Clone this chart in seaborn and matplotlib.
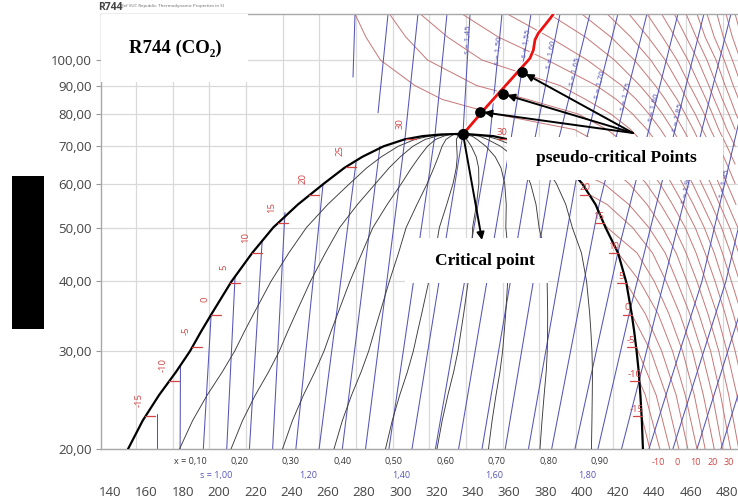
import numpy as np
import pandas as pd
import matplotlib
matplotlib.use("Agg")
import matplotlib.pyplot as plt
import matplotlib.transforms as mtransforms
import seaborn as sns
from matplotlib.patches import Rectangle
from matplotlib.ticker import NullLocator

nan = np.nan

# ---------------- data (h in kJ/kg, p in bar) ----------------
# saturation dome
SAT_P = [20, 22.5, 25, 27.5, 30, 32.5, 35, 40, 45, 50, 55, 60, 64, 67, 70, 72, 73, 73.5, 73.7]
SAT_HL = [149.9, 158.0, 167.0, 176.3, 184.1, 190.1, 196.0, 206.9, 218.3, 229.9, 243.5,
          257.9, 269.1, 279.0, 290.8, 302.2, 312.3, 322.4, 334.5]
SAT_HV = [433.7, 433.1, 432.3, 431.4, 430.2, 428.9, 427.5, 424.4, 420.0, 413.1, 407.6,
          400.2, 392.5, 383.7, 371.3, 359.5, 351.2, 339.5, 334.5]

QUALITY = [0.1, 0.2, 0.3, 0.4, 0.5, 0.6, 0.7, 0.8, 0.9]
QUALITY_LABELS = ["x = 0,10", "0,20", "0,30", "0,40", "0,50", "0,60", "0,70", "0,80", "0,90"]

# isotherm marks on the saturation lines
TICK_T = [-15, -10, -5, 0, 5, 10, 15, 20, 25, 30]
TICK_P = [22.9, 26.5, 30.5, 34.85, 39.7, 45.0, 50.9, 57.3, 64.3, 72.1]
TICK_HL = [159.4, 172.6, 185.3, 195.6, 206.2, 218.3, 232.3, 249.8, 270.0, 303.2]
TICK_HV = [433.0, 431.7, 430.0, 427.6, 424.6, 420.0, 412.2, 404.2, 391.6, 358.7]
VAP_LABEL_T = [-15, -10, -5, 0, 5, 10, 15, 20, 30]   # the 25 label is hidden in the original

# isotherms (vapour / supercritical region): enthalpy at each pressure level
ISO_T = list(range(-15, 125, 5))
ISO_LEVELS = [20, 25, 30, 35, 40, 45, 50, 55, 60, 65, 70, 75, 80, 85, 90, 100, 110, 121]
H_020 = [437.5, 443, 448.5, 453.5, 458.5, 463.5, 468, 473, 477.5, 482, 486.5, 491] + [nan] * 16
H_025 = [nan, 435, 441, 446.5, 452, 457, 462, 467, 472, 476.5, 481, 485.5, 490] + [nan] * 15
H_030 = [nan, nan, 431, 438, 444, 450, 455.5, 461, 466, 471, 475.5, 480, 484.5, 489] + [nan] * 14
H_035 = [nan] * 4 + [435, 442, 448, 454, 459.5, 464.5, 469.5, 474.5, 479, 483.5, 488] + [nan] * 13
H_040 = [nan] * 5 + [432, 440, 446.5, 452.5, 458, 463.5, 468.5, 473.5, 478, 482.5, 487] + [nan] * 12
H_045 = [nan] * 6 + [430.5, 439, 446, 452, 457.5, 463, 468, 473, 477.5, 482, 486.5] + [nan] * 11
H_050 = [nan] * 6 + [414, 428, 437, 444.5, 451, 457, 462.5, 467.5, 472.5, 477, 481.5, 486] + [nan] * 10
H_055 = [nan] * 7 + [414, 426, 436, 443.5, 450, 456, 461.5, 466.5, 471.5, 476, 480.5, 485] + [nan] * 9
H_060 = [nan] * 8 + [412, 426, 435.5, 443, 449.5, 455.5, 461, 466, 471, 475.5, 480, 484.5] + [nan] * 8
H_065 = [nan] * 9 + [413, 426, 435, 443, 449.5, 455.5, 461, 466, 471, 475.5, 480, 484.5] + [nan] * 7
H_070 = [nan] * 9 + [388, 413, 426, 435.5, 443, 449.5, 455.5, 461, 466, 471, 475.5, 480, 484.5] + [nan] * 6
H_075 = [nan] * 10 + [396, 414, 427, 436, 443.5, 450, 456, 461.5, 466.5, 471, 475.5, 480, 484.5, 489] + [nan] * 4
H_080 = [nan] * 10 + [352, 398, 416, 428, 437, 444.5, 451, 457, 462.5, 467.5, 472, 476.5, 481, 485, 489.5] + [nan] * 3
H_085 = [nan] * 10 + [323, 370, 402, 419, 430, 438.5, 446, 452.5, 458, 463.5, 468.5, 473, 477.5, 482, 486.5] + [nan] * 3
H_090 = [nan] * 10 + [308, 342, 388, 408, 422, 432, 440.5, 447.5, 454, 459.5, 465, 470, 474.5, 479, 483.5, 488] + [nan] * 2
H_100 = [nan] * 10 + [289, 315, 345, 381, 403, 418, 429, 438, 446, 452.5, 458.5, 464, 469, 474, 478.5, 483, 487.5] + [nan]
H_110 = [nan] * 10 + [281, 303, 326, 354, 382, 402, 416, 427, 436.5, 444.5, 451.5, 457.5, 463, 468, 473, 478, 483, 488]
H_121 = [nan] * 10 + [275, 294, 311, 334, 359, 382, 400, 414, 426, 436, 444, 451, 457.5, 463.5, 469, 474.5, 479.5, 484.5]
ISO_TABLE = [H_020, H_025, H_030, H_035, H_040, H_045, H_050, H_055, H_060, H_065,
             H_070, H_075, H_080, H_085, H_090, H_100, H_110, H_121]

# isentropes
ISEN_S = [0.90, 0.95, 1.00, 1.05, 1.10, 1.15, 1.20, 1.25, 1.30, 1.35, 1.40, 1.45, 1.50,
          1.55, 1.60, 1.65, 1.70, 1.75, 1.80, 1.85, 1.90, 1.95, 2.00, 2.05, 2.10]
ISEN_H20 = [165.6, 178.6, 191.4, 204.3, 216.8, 229.6, 242.4, 255.2, 268.0, 280.8, 293.7, 306.4,
            319.3, 332.1, 345.0, 357.8, 370.6, 383.4, 396.2, 408.9, 421.9, 437.0, 450.2, 463.5, 476.7]
ISEN_DOME_P = [23.1, 28.3, 34.8, 40.9, 47.2, 53.2, 59.9, 65.6, 70.0, 72.5, 73.4, 73.7, 73.1,
               72.2, 69.5, 66.7, 60.7, 53.9, 45.1, 36.1, 26.7, nan, nan, nan, nan]
ISEN_DOME_H = [165.6, 178.8, 195.7, 208.9, 223.8, 236.4, 257.4, 275.6, 288.8, 302.6, 319.1, 334.5,
               349.4, 361.0, 373.1, 384.7, 396.8, 408.9, 419.9, 427.1, 431.8, nan, nan, nan, nan]
ISEN_H40 = [nan] * 21 + [466.2, 479.4, 492.6, 505.9]
ISEN_H121 = [nan] * 9 + [309.7, 325.7, 338.4, 356.0, 372.0, 388.0, 404.5, 419.9, 435.9, 453.0,
                         467.3, 482.2, 500.4, 513.7, 527.0, 541.0]
# short isentrope pieces in the dense supercritical region
ISEN_UP_S = [1.25, 1.30]
ISEN_UP_H121 = [275.0, 293.2]
ISEN_UP_END_P = [93.2, 80.4]
ISEN_UP_END_H = [273.9, 287.7]

ISEN_LABEL_S = [1.45, 1.50, 1.55, 1.60, 1.65, 1.70, 1.75, 1.80, 1.85, 1.90, 1.95]
ISEN_LABEL_P = [108.7, 104.2, 107.3, 102.1, 95.2, 90.2, 85.9, 82.0, 79.0, 58.5, 60.0]
S_BOTTOM_LABELS = ["s = 1,00", "1,20", "1,40", "1,60", "1,80"]
S_BOTTOM_LABEL_S = [1.00, 1.20, 1.40, 1.60, 1.80]

# critical and pseudo-critical points, pseudo-critical line (hand drawn)
CRIT_H, CRIT_P = 334.5, 73.7
PSEUDO_H = [343.9, 356.6, 367.0]
PSEUDO_P = [80.7, 86.9, 95.2]
PCL_H = [334.7, 347.6, 362.3, 371.4, 373.3, 374.2, 376.0, 379.7, 382.5, 384.3]
PCL_P = [73.7, 82.5, 93.3, 100.7, 104.2, 108.7, 111.7, 115.6, 118.7, 121.0]

Y_TICKS = [20, 30, 40, 50, 60, 70, 80, 90, 100]
Y_LABELS = ["20,00", "30,00", "40,00", "50,00", "60,00", "70,00", "80,00", "90,00", "100,00"]
X_TICKS = list(range(140, 481, 20))

# ---------------- figure ----------------
sns.set_theme(style="white")
plt.rcParams['font.family'] = ['Open Sans', 'DejaVu Sans']

W, H = 738, 503
fig = plt.figure(figsize=(W / 100, H / 100), dpi=100)
ax = fig.add_axes([101 / W, 54 / H, 637 / W, 435 / H])
ax.set_yscale('log')

RED = '#c77676'
BLUE = '#5555b8'
LABEL_RED = '#d54444'

# isotherms
rows = []
for i, T in enumerate(ISO_T):
    pts = []
    if T in TICK_T:
        j = TICK_T.index(T)
        pts.append((TICK_P[j], TICK_HV[j]))
    for p, arr in zip(ISO_LEVELS, ISO_TABLE):
        if not np.isnan(arr[i]):
            pts.append((p, arr[i]))
    pts.sort()
    for p, h in pts:
        rows.append(dict(curve=T, p=p, h=h))
iso_df = pd.DataFrame(rows)
sns.lineplot(data=iso_df, x='h', y='p', units='curve', estimator=None, sort=False,
             color=RED, lw=0.7, legend=False, ax=ax, zorder=2)

# isentropes
rows = []
isen_pts = {}
for k, s in enumerate(ISEN_S):
    pts = [(20.0, ISEN_H20[k])]
    if not np.isnan(ISEN_DOME_P[k]):
        pts.append((ISEN_DOME_P[k], ISEN_DOME_H[k]))
    if not np.isnan(ISEN_H40[k]):
        pts.append((40.0, ISEN_H40[k]))
    if not np.isnan(ISEN_H121[k]):
        pts.append((121.0, ISEN_H121[k]))
    isen_pts[s] = pts
    for p, h in pts:
        rows.append(dict(curve=f"s{k}", p=p, h=h))
for k, s in enumerate(ISEN_UP_S):
    rows.append(dict(curve=f"u{k}", p=ISEN_UP_END_P[k], h=ISEN_UP_END_H[k]))
    rows.append(dict(curve=f"u{k}", p=121.0, h=ISEN_UP_H121[k]))
isen_df = pd.DataFrame(rows)
sns.lineplot(data=isen_df, x='h', y='p', units='curve', estimator=None, sort=False,
             color=BLUE, lw=0.75, legend=False, ax=ax, zorder=2)

# quality lines
rows = []
for q in QUALITY:
    for p, hl, hv in zip(SAT_P, SAT_HL, SAT_HV):
        rows.append(dict(curve=q, p=p, h=hl + q * (hv - hl)))
q_df = pd.DataFrame(rows)
sns.lineplot(data=q_df, x='h', y='p', units='curve', estimator=None, sort=False,
             color='#3a3a3a', lw=0.65, legend=False, ax=ax, zorder=3)

# saturation dome
dome_df = pd.DataFrame({'h': SAT_HL + SAT_HV[::-1], 'p': SAT_P + SAT_P[::-1]})
sns.lineplot(data=dome_df, x='h', y='p', sort=False, estimator=None, color='black',
             lw=1.6, legend=False, ax=ax, zorder=4)

# isotherm ticks on saturation lines
for T, p, hl, hv in zip(TICK_T, TICK_P, TICK_HL, TICK_HV):
    ax.plot([hl, hl + 5.5], [p, p], color=LABEL_RED, lw=0.9, zorder=4)
    ax.plot([hv - 5.0, hv], [p, p], color=LABEL_RED, lw=0.9, zorder=4)
    ax.annotate(str(T), xy=(hl, p), xytext=(-4.5, 11.5), textcoords='offset points',
                rotation=90, ha='center', va='center', color=LABEL_RED, fontsize=6.8, zorder=4)
    if T in VAP_LABEL_T:
        ax.annotate(str(T), xy=(hv, p), xytext=(-3.5, 5.0), textcoords='offset points',
                    ha='center', va='center', color=LABEL_RED, fontsize=6.8, zorder=4)

# axes limits / scale
ax.set_xlim(135.0, 486.1)
ax.set_ylim(20.0, 121.0)
ax.set_xlabel('')
ax.set_ylabel('')

# grid
for p in Y_TICKS:
    ax.axhline(p, color='#d9d9d9', lw=0.9, zorder=0)
for gh in np.arange(154.3, 486, 20.21):
    ax.axvline(gh, color='#d9d9d9', lw=0.9, zorder=0)

ax.set_yticks(Y_TICKS)
ax.set_yticklabels(Y_LABELS)
ax.yaxis.set_minor_locator(NullLocator())
ax.set_xticks(X_TICKS)
ax.set_xticklabels([str(v) for v in X_TICKS])
ax.xaxis.set_minor_locator(NullLocator())
ax.tick_params(axis='y', which='major', length=3.5, width=0.8, color='#999999', direction='out',
               pad=3, labelsize=9.5, labelcolor='#444444', left=True)
ax.tick_params(axis='x', which='major', length=0, pad=27, labelsize=9.5, labelcolor='#444444')
for side in ['left', 'bottom', 'top']:
    ax.spines[side].set_color('#a8a8a8')
    ax.spines[side].set_linewidth(1.0)
ax.spines['right'].set_visible(False)

# isentrope labels along lines
def h_on_line(pts, p):
    lp = np.log([q[0] for q in pts])
    hs = np.array([q[1] for q in pts])
    o = np.argsort(lp)
    return float(np.interp(np.log(p), lp[o], hs[o]))

for s, p in zip(ISEN_LABEL_S, ISEN_LABEL_P):
    pts = isen_pts[s]
    h = h_on_line(pts, p)
    a = ax.transData.transform((h_on_line(pts, p * 0.96), p * 0.96))
    b = ax.transData.transform((h_on_line(pts, p * 1.04), p * 1.04))
    ang = np.degrees(np.arctan2(b[1] - a[1], b[0] - a[0]))
    ax.text(h, p, "s = " + f"{s:.2f}".replace('.', ','), rotation=ang, rotation_mode='anchor',
            ha='center', va='center', color=BLUE, fontsize=5.8, zorder=3)

# labels under the diagram
trans = mtransforms.blended_transform_factory(ax.transData, ax.transAxes)
for q, lab in zip(QUALITY, QUALITY_LABELS):
    hq = SAT_HL[0] + q * (SAT_HV[0] - SAT_HL[0])
    ax.annotate(lab, xy=(hq, -0.028), xycoords=trans, xytext=(6 if q > 0.15 else 8, 0),
                textcoords='offset points', ha='center', va='center', fontsize=6.5,
                color='#333333', annotation_clip=False)
for s, lab in zip(S_BOTTOM_LABEL_S, S_BOTTOM_LABELS):
    hs = ISEN_H20[ISEN_S.index(s)]
    ax.annotate(lab, xy=(hs, -0.062), xycoords=trans, xytext=(9, 0), textcoords='offset points',
                ha='center', va='center', fontsize=6.5, color=BLUE, annotation_clip=False)
for T in [-10, 0, 10, 20, 30]:
    hb = H_020[ISO_T.index(T)]
    ax.annotate(str(T), xy=(hb, -0.030), xycoords=trans, xytext=(-1, 0), textcoords='offset points',
                ha='center', va='center', fontsize=6.5, color=LABEL_RED, annotation_clip=False)

# white label boxes
serif = ['Liberation Serif', 'DejaVu Serif']
for (x0, y0, w, hgt) in [(0.0, 0.8437, 0.2308, 0.1563), (0.6374, 0.6184, 0.3391, 0.0988),
                         (0.4772, 0.3816, 0.2245, 0.1035)]:
    ax.add_patch(Rectangle((x0, y0), w, hgt, transform=ax.transAxes, facecolor='white',
                           edgecolor='none', zorder=6, clip_on=False))
ax.text(0.1162, 0.9218, "R744 (CO\u2082)", transform=ax.transAxes, ha='center', va='center',
        fontsize=13.5, fontweight='bold', family=serif, color='black', zorder=7)
ax.text(0.8085, 0.669, "pseudo-critical Points", transform=ax.transAxes, ha='center', va='center',
        fontsize=12.5, fontweight='bold', family=serif, color='black', zorder=7)
ax.text(0.6028, 0.4322, "Critical point", transform=ax.transAxes, ha='center', va='center',
        fontsize=12.5, fontweight='bold', family=serif, color='black', zorder=7)

# pseudo-critical line
pcl_df = pd.DataFrame({'h': PCL_H, 'p': PCL_P})
sns.lineplot(data=pcl_df, x='h', y='p', sort=False, estimator=None, color='white', lw=4.0,
             legend=False, ax=ax, zorder=8)
sns.lineplot(data=pcl_df, x='h', y='p', sort=False, estimator=None, color='#ee1111', lw=2.0,
             legend=False, ax=ax, zorder=9)
ax.set_xlabel('')
ax.set_ylabel('')

# arrows
for ph, pp in zip(PSEUDO_H, PSEUDO_P):
    ax.annotate('', xy=(ph, pp), xycoords='data', xytext=(0.8352, 0.7264), textcoords='axes fraction',
                arrowprops=dict(arrowstyle='-|>', color='black', lw=1.4, mutation_scale=11,
                                shrinkA=0, shrinkB=3), zorder=10)
ax.annotate('', xy=(0.5981, 0.4805), xycoords='axes fraction', xytext=(CRIT_H, CRIT_P),
            textcoords='data', arrowprops=dict(arrowstyle='-|>', color='black', lw=1.4,
                                               mutation_scale=11, shrinkA=0, shrinkB=0), zorder=10)

# points
ax.scatter([CRIT_H], [CRIT_P], s=50, color='black', zorder=11)
ax.scatter(PSEUDO_H, PSEUDO_P, s=45, color='black', zorder=11)

ax.set_xlim(135.0, 486.1)
ax.set_ylim(20.0, 121.0)

# header and black block
fig.text(98 / W, 1 - 7 / H, "R744", fontsize=7.5, fontweight='bold', color='#444444', ha='left', va='center')
fig.text(121 / W, 1 - 6.5 / H, "Ref VUC Republic: Thermodynamic Properties in SI", fontsize=3.2,
         color='#666666', ha='left', va='center')
fig.patches.append(Rectangle((12 / W, (H - 329) / H), 32 / W, 153 / H, transform=fig.transFigure,
                             facecolor='black', edgecolor='none'))

fig.savefig('out.png', dpi=100)
